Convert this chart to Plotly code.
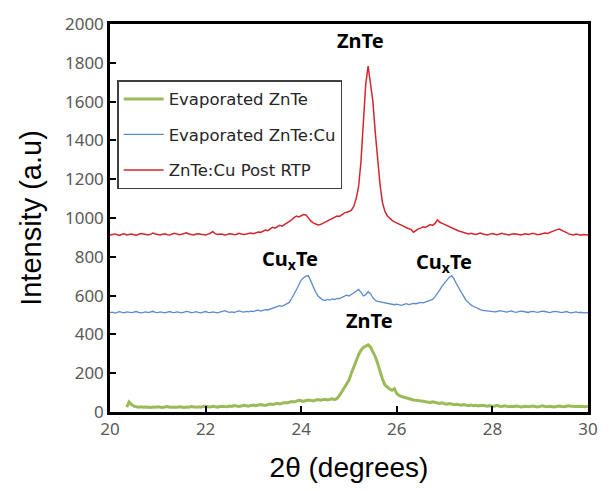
import plotly.graph_objects as go

# 2-theta sampling (degrees)
two_theta = [round(20 + 0.05 * i, 2) for i in range(201)]
two_theta_green = [round(20.35 + 0.05 * i, 2) for i in range(194)]

# Evaporated ZnTe (green) intensities, 20.35 .. 30.00
green_vals = [
    25, 52, 38, 30, 27, 25, 27, 24, 26, 25,
    23, 26, 24, 27, 25, 23, 26, 28, 25, 24,
    26, 24, 27, 25, 23, 26, 25, 28, 26, 24,
    27, 25, 28, 30, 27, 26, 29, 27, 25, 28,
    30, 28, 27, 31, 29, 33, 30, 28, 31, 34,
    32, 30, 34, 36, 33, 35, 38, 36, 34, 38,
    41, 39, 43, 45, 42, 46, 49, 47, 51, 54,
    52, 56, 60, 58, 55, 59, 62, 60, 57, 61,
    64, 61, 63, 66, 62, 65, 68, 64, 70, 85,
    105, 125, 140, 165, 200, 235, 270, 295, 318, 333,
    340, 346, 335, 310, 285, 250, 205, 170, 140, 127,
    118, 112, 120, 95, 84, 80, 76, 72, 68, 65,
    62, 60, 57, 58, 55, 53, 51, 49, 52, 48,
    46, 44, 47, 42, 40, 43, 39, 37, 40, 36,
    35, 38, 34, 33, 36, 32, 34, 31, 33, 35,
    32, 30, 33, 29, 31, 34, 30, 28, 32, 29,
    27, 30, 28, 31, 29, 26, 28, 30, 27, 29,
    31, 28, 26, 29, 32, 28, 27, 30, 28, 26,
    29, 31, 28, 27, 30, 32, 29, 27, 28, 30,
    28, 29, 27, 30,
]

# Evaporated ZnTe:Cu (blue) intensities, 20.00 .. 30.00
blue_vals = [
    512, 515, 510, 514, 517, 513, 511, 516, 514, 512,
    515, 518, 514, 511, 513, 516, 512, 515, 519, 514,
    512, 516, 513, 511, 515, 518, 514, 512, 516, 513,
    511, 515, 519, 516, 512, 514, 517, 513, 511, 515,
    518, 514, 512, 516, 513, 511, 515, 519, 522, 517,
    514, 516, 513, 518, 521, 517, 515, 519, 516, 520,
    518, 522, 525, 520, 524, 528, 526, 530, 535, 538,
    540, 548, 545, 552, 560, 565, 585, 605, 630, 655,
    680, 692, 700, 703, 675, 642, 620, 598, 588, 578,
    574, 580, 577, 583, 580, 586, 584, 590, 595, 602,
    598, 605, 612, 622, 632, 618, 598, 605, 620, 610,
    590, 575, 570, 568, 565, 562, 560, 558, 555, 553,
    556, 553, 550, 555, 558, 554, 556, 560, 558, 562,
    565, 563, 568, 572, 575, 580, 595, 610, 630, 650,
    665, 680, 695, 703, 685, 660, 640, 615, 595, 575,
    565, 552, 545, 538, 532, 528, 524, 522, 520, 521,
    519, 516, 518, 522, 520, 517, 515, 519, 521, 516,
    514, 517, 520, 518, 515, 513, 517, 519, 516, 514,
    517, 520, 518, 515, 512, 516, 519, 517, 514, 512,
    515, 518, 514, 511, 513, 516, 512, 514, 511, 513,
    512,
]

# ZnTe:Cu Post RTP (red) intensities, 20.00 .. 30.00
red_vals = [
    912, 915, 918, 914, 910, 916, 919, 913, 915, 917,
    914, 911, 916, 920, 918, 915, 913, 917, 922, 918,
    915, 913, 916, 919, 914, 912, 918, 921, 917, 914,
    916, 920, 924, 918, 915, 913, 917, 919, 916, 914,
    913, 917, 921, 930, 919, 915, 918, 916, 913, 915,
    919, 917, 914, 916, 921, 918, 915, 917, 920, 922,
    919, 924, 928, 926, 932, 938, 935, 945, 952, 948,
    955, 962, 958, 966, 972, 980, 990, 1002, 1010, 1005,
    1012, 1018, 1016, 1000, 985, 975, 968, 964, 966, 972,
    978, 985, 990, 997, 1003, 1010, 1008, 1018, 1025, 1030,
    1033, 1040, 1060, 1100, 1160, 1290, 1520, 1690, 1783, 1700,
    1600, 1440, 1300, 1170, 1080, 1035, 1012, 998, 988, 980,
    975, 968, 962, 957, 950, 946, 940, 927, 936, 944,
    948, 955, 951, 960, 966, 962, 972, 990, 978, 972,
    966, 958, 955, 946, 942, 938, 933, 930, 926, 922,
    918, 921, 917, 915, 919, 922, 918, 916, 913, 917,
    920, 916, 914, 918, 921, 917, 915, 913, 916, 919,
    917, 914, 912, 916, 919, 915, 918, 921, 917, 914,
    916, 919, 923, 920, 926, 931, 935, 940, 943, 936,
    928, 922, 918, 915, 913, 917, 914, 911, 915, 912,
    913,
]

series_names = ["Evaporated ZnTe", "Evaporated ZnTe:Cu", "ZnTe:Cu Post RTP"]
series_colors = ["#9BBB59", "#5B8BCB", "#D0282E"]
series_widths = [3, 1.3, 1.5]

x_ticks = [20, 22, 24, 26, 28, 30]
y_ticks = [0, 200, 400, 600, 800, 1000, 1200, 1400, 1600, 1800, 2000]

# annotations: text, x, y
ann_texts = ["<b>ZnTe</b>", "<b>Cu<sub>x</sub>Te</b>", "<b>Cu<sub>x</sub>Te</b>", "<b>ZnTe</b>"]
ann_x = [25.24, 23.76, 26.98, 25.43]
ann_y = [1915, 785, 770, 470]

fig = go.Figure()
xs = [two_theta_green, two_theta, two_theta]
ys = [green_vals, blue_vals, red_vals]
for i in range(3):
    fig.add_trace(go.Scatter(
        x=xs[i], y=ys[i], mode="lines", name=series_names[i],
        line=dict(color=series_colors[i], width=series_widths[i]),
        legendgroup="g%d" % i,
    ))

for t, ax, ay in zip(ann_texts, ann_x, ann_y):
    fig.add_annotation(x=ax, y=ay, text=t, showarrow=False,
                       font=dict(family="Noto Sans", size=20, color="black"))

fig.update_layout(
    width=610, height=491,
    margin=dict(l=110, r=22, t=17, b=78),
    paper_bgcolor="white", plot_bgcolor="white",
    showlegend=True,
    legend=dict(
        x=0.015, y=0.855, xanchor="left", yanchor="top",
        bgcolor="white", bordercolor="#404040", borderwidth=1.5,
        font=dict(family="DejaVu Sans", size=16.5, color="#262626"),
        traceorder="grouped", tracegroupgap=11, itemwidth=40,
    ),
    xaxis=dict(
        range=[20, 30], tickvals=x_ticks, ticks="inside", ticklen=6, tickwidth=2,
        tickcolor="black", showline=True, linecolor="black", linewidth=2.5, mirror=True,
        showgrid=False, zeroline=False,
        tickfont=dict(family="Noto Sans", size=17, color="#595959"),
        title=dict(text="2θ (degrees)", font=dict(family="Liberation Sans", size=28, color="black"), standoff=19),
    ),
    yaxis=dict(
        range=[0, 2000], tickvals=y_ticks, ticks="inside", ticklen=6, tickwidth=2,
        tickcolor="black", showline=True, linecolor="black", linewidth=2.5, mirror=True,
        showgrid=False, zeroline=False, ticksuffix=" ",
        tickfont=dict(family="Noto Sans", size=17, color="#595959"),
        title=dict(text="Intensity (a.u)", font=dict(family="Liberation Sans", size=29, color="black"), standoff=15),
    ),
)

fig.write_html("out.html", config={"displayModeBar": False},
               post_script="document.body.style.margin='0';")
